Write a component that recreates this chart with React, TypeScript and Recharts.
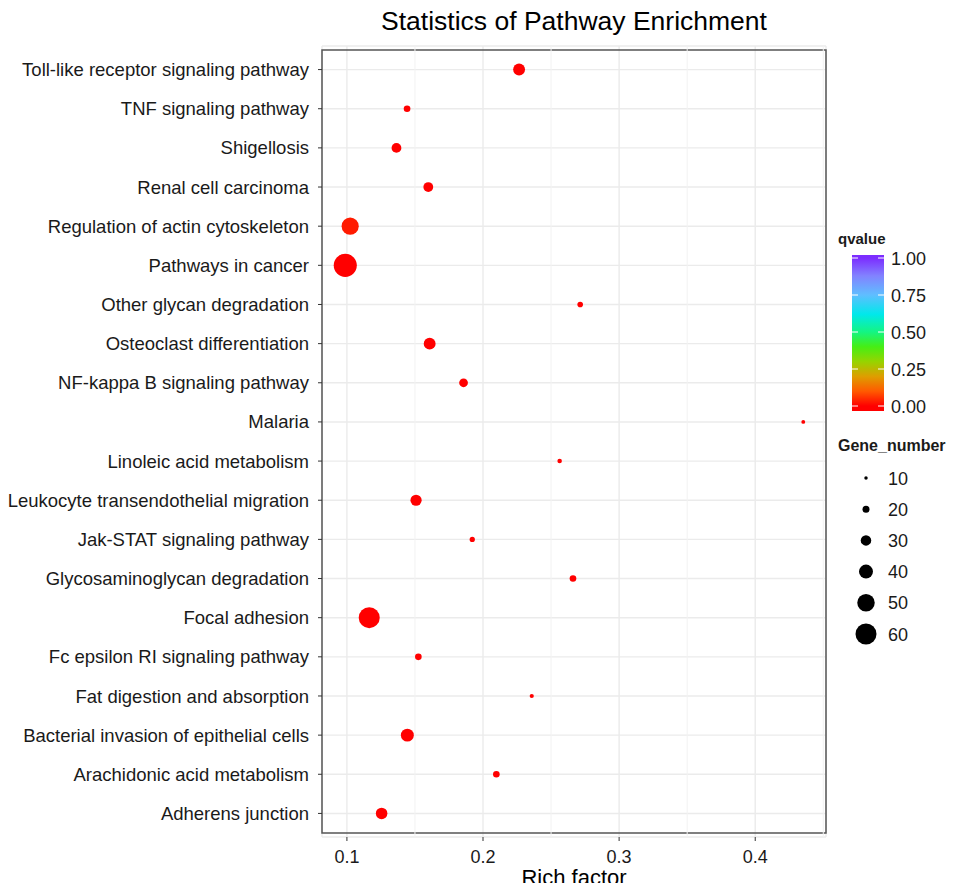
import { ScatterChart, Scatter, XAxis, YAxis, ZAxis, CartesianGrid, ReferenceLine, ReferenceArea, Cell } from "recharts"

// pathways listed top to bottom
const pathways = [
    "Toll-like receptor signaling pathway",
    "TNF signaling pathway",
    "Shigellosis",
    "Renal cell carcinoma",
    "Regulation of actin cytoskeleton",
    "Pathways in cancer",
    "Other glycan degradation",
    "Osteoclast differentiation",
    "NF-kappa B signaling pathway",
    "Malaria",
    "Linoleic acid metabolism",
    "Leukocyte transendothelial migration",
    "Jak-STAT signaling pathway",
    "Glycosaminoglycan degradation",
    "Focal adhesion",
    "Fc epsilon RI signaling pathway",
    "Fat digestion and absorption",
    "Bacterial invasion of epithelial cells",
    "Arachidonic acid metabolism",
    "Adherens junction",
]
const richFactor = [
    0.2265, 0.1442, 0.1364, 0.1598, 0.1024, 0.0988, 0.2714, 0.1608, 0.1857, 0.4353,
    0.2563, 0.1508, 0.1921, 0.2661, 0.1164, 0.1525, 0.2358, 0.1444, 0.2098, 0.1255,
]
const geneNumber = [34, 19, 28, 28, 49, 66, 16, 34, 25, 11, 13, 32, 15, 19, 60, 19, 12, 37, 19, 33]
const qvalue = [0, 0, 0, 0, 0.03, 0, 0, 0, 0, 0, 0, 0, 0, 0, 0, 0, 0, 0, 0, 0]

const xTicks = [0.1, 0.2, 0.3, 0.4]
const xMinorTicks = [0.15, 0.25, 0.35, 0.45]
const qTicks = [0, 0.25, 0.5, 0.75, 1]
const geneTicks = [10, 20, 30, 40, 50, 60]

const data = pathways.map((pathway, i) => ({
    pathway,
    rich: richFactor[i],
    genes: geneNumber[i],
    q: qvalue[i],
}))

const FONT = "'Liberation Sans', Arial, Helvetica, sans-serif"
const TEXT = "#1a1a1a"
const BORDER = "#555555"
const GRID = "#ebebeb"
const X_DOMAIN = [0.0817, 0.452]

// dot diameter grows linearly with gene count
const DIAM_PER_GENE = 0.35
const Z_MAX = 70

// rainbow ramp for qvalue
const qStops: [number, number[]][] = [
    [0, [255, 0, 0]],
    [0.1, [255, 90, 0]],
    [0.2, [222, 158, 0]],
    [0.3, [150, 212, 0]],
    [0.4, [70, 238, 20]],
    [0.5, [20, 245, 130]],
    [0.62, [0, 232, 235]],
    [0.75, [95, 190, 255]],
    [0.88, [130, 130, 255]],
    [1, [124, 45, 255]],
]

const qColor = (q: number) => {
    for (let i = 1; i < qStops.length; i++) {
        const [t1, c1] = qStops[i]
        const [t0, c0] = qStops[i - 1]
        if (q <= t1) {
            const f = (q - t0) / (t1 - t0)
            const c = c0.map((v, k) => Math.round(v + (c1[k] - v) * f))
            return `rgb(${c[0]},${c[1]},${c[2]})`
        }
    }
    return "rgb(124,45,255)"
}

const Dot = (props: any) => {
    const { cx, cy, size, fill } = props
    if (cx == null || cy == null) return null
    return <circle cx={cx} cy={cy} r={size / 2} fill={fill} />
}

const Legends = () => {
    const barTop = 255
    const barBottom = 411
    const qY = (q: number) => 406 - q * 148
    return (
        <svg
            width={973}
            height={891}
            style={{ position: "absolute", left: 0, top: 0, pointerEvents: "none" }}
            fontFamily={FONT}
        >
            <defs>
                <linearGradient id="qgrad" x1="0" y1="1" x2="0" y2="0">
                    {qStops.map(([t, c]) => (
                        <stop key={t} offset={(barBottom - qY(t)) / (barBottom - barTop)} stopColor={`rgb(${c[0]},${c[1]},${c[2]})`} />
                    ))}
                </linearGradient>
            </defs>
            <text x={574} y={30} textAnchor="middle" fontSize={26.5} fill="#000">
                Statistics of Pathway Enrichment
            </text>
            <text x={574} y={885} textAnchor="middle" fontSize={22} fill="#000">
                Rich factor
            </text>

            <text x={838} y={244} fontSize={15} fontWeight="bold" fill={TEXT}>qvalue</text>
            <rect x={852} y={barTop} width={32} height={barBottom - barTop} fill="url(#qgrad)" />
            {qTicks.map(t => (
                <g key={t}>
                    <line x1={852} x2={858} y1={qY(t)} y2={qY(t)} stroke="#fff" strokeWidth={1} />
                    <line x1={878} x2={884} y1={qY(t)} y2={qY(t)} stroke="#fff" strokeWidth={1} />
                    <text x={891} y={qY(t) + 6.5} fontSize={18} fill={TEXT}>{t.toFixed(2)}</text>
                </g>
            ))}

            <text x={838} y={451} fontSize={16} fontWeight="bold" fill={TEXT}>Gene_number</text>
            {geneTicks.map((g, i) => (
                <g key={g}>
                    <circle cx={866} cy={478 + i * 31.2} r={(g * DIAM_PER_GENE) / 2} fill="#000" />
                    <text x={888} y={478 + i * 31.2 + 6.5} fontSize={18} fill={TEXT}>{g}</text>
                </g>
            ))}
        </svg>
    )
}

export default function App() {
    return (
        <div style={{ position: "relative", width: 973, height: 891, margin: -8, background: "#fff" }}>
            <ScatterChart
                width={973}
                height={891}
                margin={{ top: 46, right: 147, bottom: 24, left: 0 }}
            >
                <CartesianGrid stroke={GRID} strokeWidth={1.4} />
                {xMinorTicks.map(t => (
                    <ReferenceLine key={t} x={t} stroke="#f2f2f2" strokeWidth={1} />
                ))}
                <XAxis
                    type="number"
                    dataKey="rich"
                    domain={X_DOMAIN}
                    ticks={xTicks}
                    tickFormatter={(v: number) => v.toFixed(1)}
                    height={30}
                    tickSize={4}
                    tickMargin={9}
                    tick={{ fontSize: 18, fill: TEXT, fontFamily: FONT }}
                    axisLine={false}
                    tickLine={{ stroke: "#333" }}
                />
                <YAxis
                    type="category"
                    dataKey="pathway"
                    reversed
                    width={322}
                    interval={0}
                    padding={{ top: 4, bottom: 4 }}
                    tickSize={4}
                    tickMargin={9}
                    tick={{ fontSize: 18.5, fill: TEXT, fontFamily: FONT }}
                    axisLine={false}
                    tickLine={{ stroke: "#333" }}
                />
                <ZAxis type="number" dataKey="genes" domain={[0, Z_MAX]} range={[0, Z_MAX * DIAM_PER_GENE]} />
                {/* panel border */}
                <ReferenceArea x1={X_DOMAIN[0]} x2={X_DOMAIN[1]} fill="none" stroke={BORDER} strokeWidth={1.5} />
                <Scatter data={data} shape={<Dot />} isAnimationActive={false}>
                    {data.map(d => (
                        <Cell key={d.pathway} fill={qColor(d.q)} />
                    ))}
                </Scatter>
            </ScatterChart>
            <Legends />
        </div>
    )
}
